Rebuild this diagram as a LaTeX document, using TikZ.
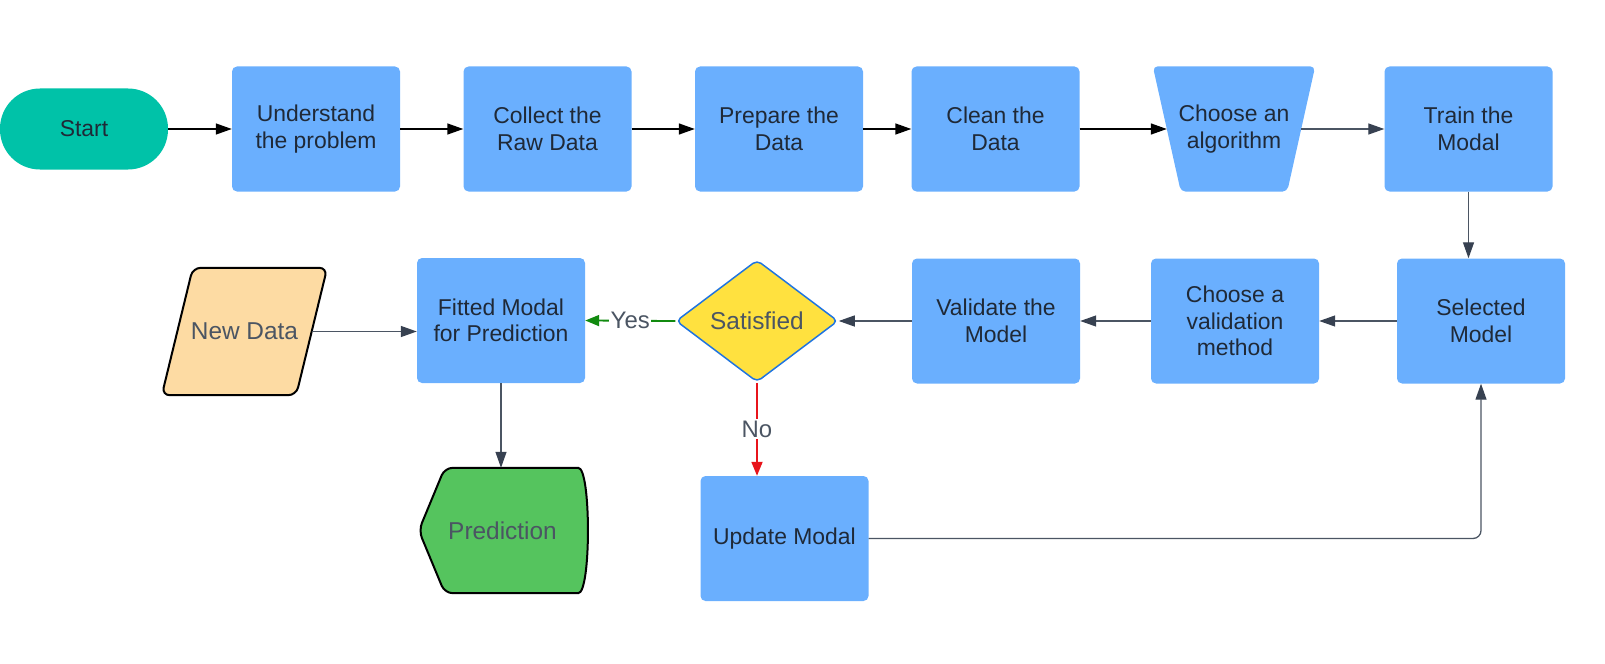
\documentclass[tikz,border=0pt]{standalone}
\usepackage{fontspec}
\setmainfont{Liberation Sans}
\usetikzlibrary{arrows.meta,backgrounds,shapes.geometric}
\definecolor{boxblue}{HTML}{6AAFFE}
\definecolor{startteal}{HTML}{00C2A8}
\definecolor{txtdark}{HTML}{1F2937}
\definecolor{txtgray}{HTML}{4B5563}
\definecolor{edgegray}{HTML}{4B5563}
\definecolor{tipgray}{HTML}{374151}
\definecolor{satyellow}{HTML}{FFE13F}
\definecolor{satborder}{HTML}{1F74E0}
\definecolor{ndorange}{HTML}{FDDBA3}
\definecolor{predgreen}{HTML}{55C45E}
\definecolor{yesgreen}{HTML}{118A0F}
\definecolor{nored}{HTML}{E8141B}
\begin{document}
\begin{tikzpicture}[x=1bp,y=-1bp,
  boxtxt/.style={font=\fontsize{23}{26.5}\selectfont},
  graytxt/.style={font=\fontsize{24.5}{28}\selectfont, text=txtgray},
  box/.style={rectangle, rounded corners=5bp, fill=boxblue, minimum width=168bp, minimum height=125bp, inner sep=0pt, align=center, text=txtdark, boxtxt},
  startst/.style={rectangle, rounded corners=40bp, fill=startteal, minimum width=168bp, minimum height=81bp, inner sep=0pt, text=txtdark, boxtxt},
  holder/.style={rectangle, inner sep=0pt, align=center},
  blackarrow/.style={draw=black, line width=1.4bp, -{Triangle[length=16bp,width=11bp]}},
  grayarrow/.style={draw=edgegray, line width=1.3bp, -{Triangle[length=16bp,width=11bp,color=tipgray]}},
  yesarrow/.style={draw=yesgreen, line width=1.8bp, -{Triangle[length=14bp,width=11bp]}},
  noarrow/.style={draw=nored, line width=1.8bp, -{Triangle[length=14bp,width=11bp]}},
  lbl/.style={fill=white, inner sep=1.5bp, text=txtgray, font=\fontsize{24}{27}\selectfont}
]
\useasboundingbox (0,0) rectangle (1605,664);

% row 1
\node[startst] (start) at (84,129) {Start};
\node[box] (und) at (316,129) {Understand\\the problem};
\node[box] (col) at (547.5,129) {Collect the\\Raw Data};
\node[box] (prep) at (779,129) {Prepare the\\Data};
\node[box] (clean) at (995.5,129) {Clean the\\Data};
\node[holder, minimum width=162bp, minimum height=125bp, text=txtdark, boxtxt] (alg) at (1234,129) {Choose an\\algorithm};
\node[box] (train) at (1468.5,129) {Train the\\Modal};

% row 2
\node[box] (sel) at (1481,321) {Selected\\Model};
\node[box] (cvm) at (1235,321) {Choose a\\validation\\method};
\node[box] (val) at (996,321) {Validate the\\Model};
\node[diamond, rounded corners=5bp, fill=satyellow, draw=satborder, line width=1.5bp, minimum width=162bp, minimum height=122bp, inner sep=0pt, graytxt] (sat) at (757,321) {Satisfied};
\node[box] (fit) at (501,320.5) {Fitted Modal\\for Prediction};
\node[holder, minimum width=165bp, minimum height=127bp, graytxt] (nd) at (244.5,331.5) {New Data};

% row 3
\node[holder, minimum width=167bp, minimum height=125bp, graytxt] (pred) at (502.5,530.5) {Prediction};
\node[box] (upd) at (784.5,538.5) {Update Modal};

% custom shapes behind
\begin{scope}[on background layer]
  \fill[boxblue, rounded corners=5bp] (alg.north west) -- (alg.north east) -- ([xshift=-28bp]alg.south east) -- ([xshift=28bp]alg.south west) -- cycle;
  \filldraw[fill=ndorange, draw=black, line width=2bp, rounded corners=8bp] ([xshift=31bp]nd.north west) -- (nd.north east) -- ([xshift=-31bp]nd.south east) -- (nd.south west) -- cycle;
  \filldraw[fill=predgreen, draw=black, line width=2bp, rounded corners=8bp] (pred.west) -- ([xshift=26bp]pred.north west) -- ([xshift=-16bp]pred.north east) .. controls ([xshift=5bp]pred.north east) and ([xshift=5bp]pred.south east) .. ([xshift=-16bp]pred.south east) -- ([xshift=26bp]pred.south west) -- cycle;
\end{scope}

% connectors
\draw[blackarrow] (start.east) -- (start.east -| und.west);
\draw[blackarrow] (und) -- (col);
\draw[blackarrow] (col) -- (prep);
\draw[blackarrow] (prep) -- (clean);
\draw[blackarrow] (clean.east) -- ([xshift=14bp]alg.west);
\draw[grayarrow] ([xshift=-14bp]alg.east) -- (train.west);
\draw[grayarrow] (train.south) -- (train.south |- sel.north);
\draw[grayarrow] (sel) -- (cvm);
\draw[grayarrow] (cvm) -- (val);
\draw[grayarrow] (val.west) -- (sat.east);
\draw[yesarrow] (sat.west) -- node[lbl] {Yes} (fit.east);
\draw[noarrow] (sat.south) -- node[lbl] {No} (sat.south |- upd.north);
\draw[grayarrow, rounded corners=8bp] (upd.east) -| (sel.south);
\draw[grayarrow] ([xshift=-15.5bp]nd.east) -- (nd.east -| fit.west);
\draw[grayarrow] (fit.south) -- (fit.south |- pred.north);
\end{tikzpicture}
\end{document}
